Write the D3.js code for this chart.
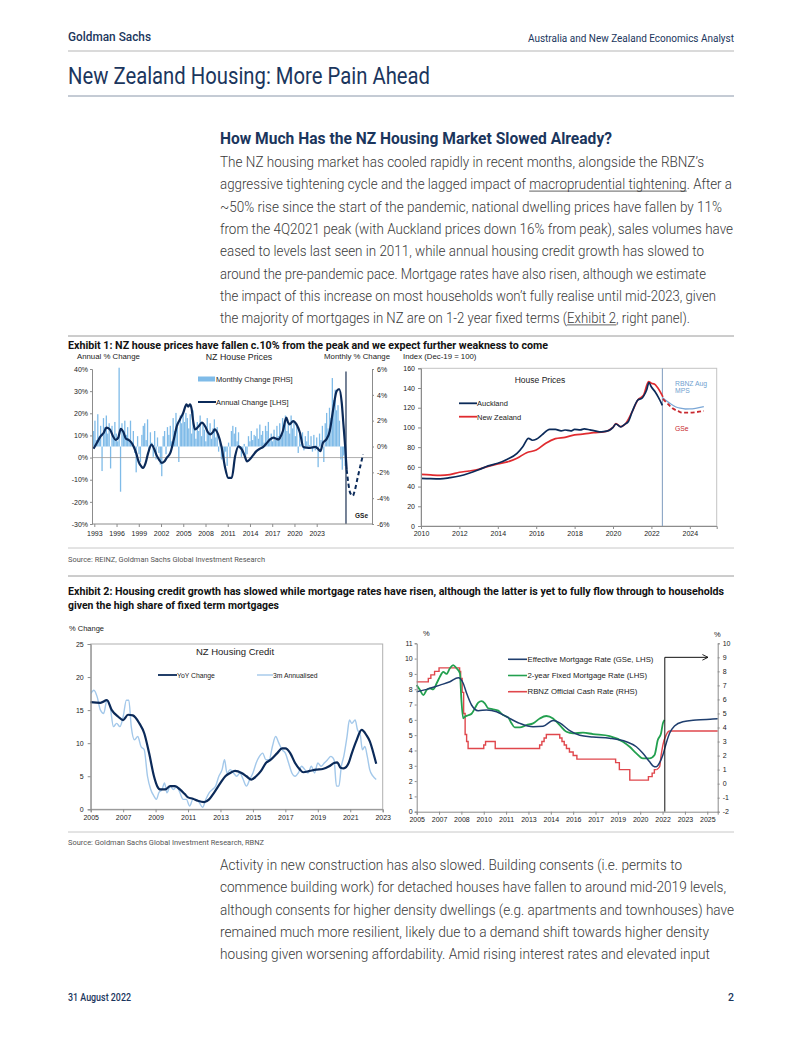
<!DOCTYPE html>
<html><head><meta charset="utf-8">
<script src="https://cdn.jsdelivr.net/npm/d3@7"></script>
<style>body{margin:0;background:#fff}</style>
</head><body>
<script>
// ================= DATA =================
const headerLeft = "Goldman Sachs";
const headerRight = "Australia and New Zealand Economics Analyst";
const pageTitle = "New Zealand Housing: More Pain Ahead";
const sectionHeading = "How Much Has the NZ Housing Market Slowed Already?";
const bodyLines1 = [
 "The NZ housing market has cooled rapidly in recent months, alongside the RBNZ’s",
 "aggressive tightening cycle and the lagged impact of {macroprudential tightening}. After a",
 "~50% rise since the start of the pandemic, national dwelling prices have fallen by 11%",
 "from the 4Q2021 peak (with Auckland prices down 16% from peak), sales volumes have",
 "eased to levels last seen in 2011, while annual housing credit growth has slowed to",
 "around the pre-pandemic pace. Mortgage rates have also risen, although we estimate",
 "the impact of this increase on most households won’t fully realise until mid-2023, given",
 "the majority of mortgages in NZ are on 1-2 year fixed terms ({Exhibit 2}, right panel)."
];
const bodyWidths1 = [484, 512, 502, 513, 484, 486, 496, 470];
const bodyLines2 = [
 "Activity in new construction has also slowed. Building consents (i.e. permits to",
 "commence building work) for detached houses have fallen to around mid-2019 levels,",
 "although consents for higher density dwellings (e.g. apartments and townhouses) have",
 "remained much more resilient, likely due to a demand shift towards higher density",
 "housing given worsening affordability. Amid rising interest rates and elevated input"
];
const bodyWidths2 = [462, 506, 514, 489, 490];
const exhibit1Title = "Exhibit 1: NZ house prices have fallen c.10% from the peak and we expect further weakness to come";
const exhibit2Title = ["Exhibit 2: Housing credit growth has slowed while mortgage rates have risen, although the latter is yet to fully flow through to households",
                       "given the high share of fixed term mortgages"];
const source1 = "Source: REINZ, Goldman Sachs Global Investment Research";
const source2 = "Source: Goldman Sachs Global Investment Research, RBNZ";
const footerDate = "31 August 2022";
const footerPage = "2";

// --- Chart 1: NZ House Prices ---
const c1YearLabels = [1993,1996,1999,2002,2005,2008,2011,2014,2017,2020,2023];
const c1LeftTicks = [-30,-20,-10,0,10,20,30,40];
const c1RightTicks = [-6,-4,-2,0,2,4,6];
const monthlyStart = 1993.0; // bi-monthly observations
const monthlyChange = [
 1.2,2.0,0.5,2.5,0.8,1.6,
 -1.9,2.2,1.5,2.4,1.0,1.8,
 -1.7,1.6,0.6,1.9,1.0,0.4,
 6.1,-3.5,1.8,1.2,2.0,0.9,
 1.5,0.6,2.0,0.3,1.2,-0.5,
 -2.0,0.8,-0.6,-1.2,0.9,1.6,
 1.8,0.5,2.1,-0.4,1.1,0.3,
 -0.8,1.2,-1.0,0.7,-0.5,-1.4,
 -2.3,0.8,1.2,-0.6,1.5,0.9,
 1.6,0.4,2.2,1.2,2.6,1.5,
 -1.2,2.4,1.8,2.5,1.9,2.6,
 2.2,1.4,2.5,1.0,2.8,1.6,
 0.6,1.9,1.2,2.4,0.8,1.7,
 1.3,0.4,2.2,1.0,1.8,0.6,
 1.4,2.1,0.7,1.5,-0.4,0.5,
 -1.0,-0.6,-1.2,-0.4,-1.5,0.3,
 -0.9,1.2,1.6,1.0,1.5,0.4,
 1.1,-0.2,-0.8,-0.5,0.2,-1.0,
 -0.6,0.8,0.4,1.2,0.5,0.9,
 0.8,1.4,0.6,1.7,0.9,1.2,
 0.3,1.6,1.2,1.9,0.6,1.0,
 0.4,1.3,0.5,1.6,0.8,1.8,
 0.7,2.2,1.5,2.4,1.2,1.9,
 1.0,2.4,1.4,1.9,0.8,1.5,
 -0.5,1.0,0.2,1.1,-0.3,0.8,
 0.4,1.2,0.1,0.8,-0.4,0.9,
 -0.3,0.7,-1.6,1.0,0.5,1.6,
 -1.2,1.8,2.6,1.4,3.0,2.2,
 5.3,3.6,4.4,2.8,3.2,2.0,
 -1.0,-1.8,-0.7,-1.5
];
const annualChange = [
 [1993.0,4.0],[1993.4,6.7],[1993.8,9.5],[1994.2,11.2],[1994.5,13.5],[1994.9,12.8],[1995.3,9.5],[1995.6,8.0],
 [1995.9,9.0],[1996.2,13.0],[1996.5,11.5],[1996.8,8.5],[1997.1,8.0],[1997.4,7.0],[1997.7,5.0],[1998.0,2.0],
 [1998.3,-2.0],[1998.6,-4.0],[1998.8,-4.7],[1999.1,-2.5],[1999.4,2.0],[1999.8,5.9],[2000.1,4.0],[2000.4,1.0],
 [2000.7,-1.0],[2001.0,-2.4],[2001.3,-1.8],[2001.6,0.0],[2002.0,2.1],[2002.4,8.0],[2002.75,14.0],[2003.1,17.0],
 [2003.5,20.0],[2003.9,24.0],[2004.1,23.0],[2004.3,24.0],[2004.5,22.0],[2004.7,16.0],[2004.9,12.7],[2005.3,14.0],
 [2005.7,15.8],[2006.1,14.0],[2006.4,11.5],[2006.7,10.5],[2007.0,11.5],[2007.2,12.7],[2007.6,10.5],[2008.0,5.0],
 [2008.4,-4.0],[2008.8,-9.2],[2009.2,-9.2],[2009.6,0.6],[2010.0,5.1],[2010.4,3.6],[2010.7,1.0],[2011.0,-1.7],
 [2011.3,-0.9],[2011.7,1.0],[2012.1,2.9],[2012.5,4.0],[2012.9,4.8],[2013.3,6.5],[2013.7,8.2],[2014.1,9.0],
 [2014.4,8.5],[2014.7,8.2],[2015.0,10.0],[2015.2,12.0],[2015.6,18.0],[2015.8,16.0],[2016.0,15.0],[2016.4,16.5],
 [2016.8,15.0],[2017.2,11.2],[2017.6,4.8],[2018.0,4.5],[2018.4,4.4],[2019.0,4.8],[2019.3,4.0],[2019.6,2.9],
 [2019.9,6.7],[2020.3,8.2],[2020.7,12.0],[2021.1,21.8],[2021.5,30.0],[2021.8,30.9],[2022.1,24.8],[2022.3,15.0],
 [2022.5,5.1],[2022.68,-5.5]
];
const annualForecast = [[2022.68,-5.5],[2023.1,-16.0],[2023.4,-17.3],[2023.6,-15.3],[2024.0,-8.5],[2024.6,1.4]];
const c1ForecastStart = 2022.6;

// --- Chart 2: House Prices index ---
const c2XTicks = [2010,2012,2014,2016,2018,2020,2022,2024];
const c2YTicks = [0,20,40,60,80,100,120,140,160];
const auckland = [
 [2010.0,48.4],[2010.5,48],[2011.0,47.8],[2011.5,49],[2012.0,50.7],[2012.5,53.5],[2013.0,57],[2013.5,61],
 [2014.0,63.6],[2014.5,67.7],[2015.0,73.7],[2015.3,80.5],[2015.6,89],[2015.8,87],[2016.0,88],[2016.3,92.4],
 [2016.7,98],[2017.0,98],[2017.3,96.5],[2017.5,97.4],[2017.8,96.5],[2018.0,98],[2018.3,97.5],[2018.5,98.5],
 [2018.8,97.5],[2019.0,96.8],[2019.3,95.5],[2019.5,95.7],[2019.8,97],[2020.0,100],[2020.15,103.5],[2020.4,100.5],
 [2020.6,103],[2020.8,106],[2021.0,116],[2021.3,128],[2021.5,129.5],[2021.6,132],[2021.75,138],[2021.87,145.5],
 [2022.0,141],[2022.2,136],[2022.35,131],[2022.57,122.5]
];
const newZealand = [
 [2010.0,52.4],[2010.5,51.8],[2011.0,51.4],[2011.5,52.2],[2012.0,54.5],[2012.5,55.8],[2013.0,57.5],[2013.5,60.5],
 [2014.0,63],[2014.5,65],[2015.0,68.7],[2015.5,74.4],[2016.0,77],[2016.5,84],[2017.0,88.6],[2017.5,90],
 [2018.0,92.4],[2018.5,93.4],[2019.0,94.7],[2019.5,95.4],[2020.0,100],[2020.15,104],[2020.4,100.8],[2020.7,105],
 [2021.0,116],[2021.3,128],[2021.6,133],[2021.85,146.5],[2022.0,144.8],[2022.15,144],[2022.3,141],[2022.6,131]
];
const rbnzProjection = [[2022.6,130],[2023.0,124],[2023.25,121],[2023.5,119.5],[2023.77,118.7],[2024.0,118.8],[2024.3,119.4],[2024.73,121]];
const gsProjection = [[2022.6,129],[2022.9,123],[2023.1,119.4],[2023.4,116.5],[2023.6,115],[2024.0,115],[2024.3,115.5],[2024.73,116.7]];
const c2ForecastStart = 2022.57;

// --- Chart 3: NZ Housing Credit ---
const c3XTicks = [2005,2007,2009,2011,2013,2015,2017,2019,2021,2023];
const c3YTicks = [0,5,10,15,20,25];
const yoyChange = [
 [2005.0,16.2],[2005.6,16.1],[2006.0,16.5],[2006.3,15.0],[2006.7,14.0],[2007.0,13.5],[2007.3,14.3],[2007.6,14.2],
 [2008.0,13.0],[2008.3,11.5],[2008.6,8.5],[2008.9,5.0],[2009.1,3.5],[2009.3,3.0],[2009.6,3.0],[2009.9,3.5],
 [2010.2,3.5],[2010.5,3.0],[2010.8,2.3],[2011.0,1.8],[2011.3,1.6],[2011.6,1.3],[2012.0,1.1],[2012.3,1.5],
 [2012.6,2.5],[2013.0,4.0],[2013.3,5.0],[2013.6,5.5],[2013.9,5.8],[2014.3,5.5],[2014.6,5.0],[2014.9,4.5],
 [2015.2,5.0],[2015.5,5.8],[2015.8,7.0],[2016.1,7.5],[2016.5,8.5],[2016.8,9.2],[2017.0,9.2],[2017.3,8.5],
 [2017.6,7.0],[2017.9,6.0],[2018.1,5.6],[2018.5,5.8],[2018.9,6.0],[2019.3,6.1],[2019.7,6.5],[2020.0,7.0],
 [2020.2,7.1],[2020.4,6.3],[2020.6,6.2],[2020.9,7.0],[2021.1,8.5],[2021.4,10.5],[2021.7,12.0],[2022.0,11.2],
 [2022.2,10.3],[2022.45,8.3],[2022.6,6.9]
];
const annualised3m = [
 [2005.0,17.5],[2005.2,18.0],[2005.4,17.0],[2005.6,15.0],[2005.8,14.5],[2006.0,16.5],[2006.2,15.5],[2006.4,12.5],
 [2006.6,13.0],[2006.8,12.5],[2007.0,14.0],[2007.2,16.5],[2007.35,16.5],[2007.5,12.5],[2007.7,10.5],[2007.9,11.0],
 [2008.1,9.5],[2008.3,9.0],[2008.5,5.0],[2008.7,3.0],[2008.9,2.0],[2009.05,1.5],[2009.2,2.5],[2009.4,3.0],
 [2009.55,4.0],[2009.7,2.5],[2009.9,3.5],[2010.1,3.0],[2010.3,3.5],[2010.5,2.5],[2010.7,1.5],[2010.9,1.5],
 [2011.1,0.5],[2011.3,1.5],[2011.5,1.5],[2011.7,1.0],[2011.9,0.3],[2012.1,1.5],[2012.3,2.5],[2012.5,3.0],
 [2012.7,3.5],[2012.9,5.0],[2013.1,6.0],[2013.25,7.5],[2013.4,5.5],[2013.6,6.0],[2013.8,5.5],[2014.0,5.0],
 [2014.2,5.5],[2014.4,4.5],[2014.6,3.5],[2014.8,4.5],[2015.0,5.5],[2015.2,7.0],[2015.4,8.0],[2015.6,8.5],
 [2015.8,7.5],[2016.0,7.5],[2016.2,9.5],[2016.4,11.0],[2016.6,10.0],[2016.8,9.0],[2017.0,8.5],[2017.2,7.0],
 [2017.4,5.5],[2017.6,5.0],[2017.8,5.5],[2018.0,6.5],[2018.2,6.0],[2018.4,5.5],[2018.6,6.5],[2018.8,5.5],
 [2019.0,7.0],[2019.2,6.5],[2019.4,7.0],[2019.6,7.5],[2019.8,8.0],[2020.0,7.5],[2020.15,3.5],[2020.3,3.5],
 [2020.45,6.5],[2020.6,8.0],[2020.8,11.0],[2020.95,13.5],[2021.1,13.0],[2021.3,13.5],[2021.45,12.0],[2021.6,11.5],
 [2021.75,9.0],[2021.9,9.5],[2022.05,8.0],[2022.2,6.0],[2022.4,5.0],[2022.6,4.5]
];

// --- Chart 4: Mortgage rates & OCR ---
const c4XTicks = [2005,2006.5,2008,2009.5,2011,2012.5,2014,2015.5,2017,2018.5,2020,2021.5,2023,2024.5];
const c4LeftTicks = [0,1,2,3,4,5,6,7,8,9,10,11];
const c4RightTicks = [-2,-1,0,1,2,3,4,5,6,7,8,9,10];
const effectiveRate = [
 [2005.0,7.84],[2005.67,7.99],[2006.56,8.27],[2007.23,8.49],[2007.79,8.75],[2008.12,8.39],[2008.35,7.73],[2008.68,6.97],
 [2009.13,6.6],[2009.69,6.64],[2010.36,6.53],[2011.03,6.2],[2011.92,5.77],[2012.81,5.55],[2013.48,5.58],[2014.15,5.95],
 [2014.6,5.8],[2015.27,5.3],[2015.94,5.0],[2016.83,4.88],[2017.95,4.8],[2019.07,4.57],[2019.74,4.24],[2020.18,3.81],
 [2020.63,3.26],[2020.85,3.0],[2021.07,2.93],[2021.3,3.2],[2021.52,3.7],[2021.74,4.46],[2021.97,5.12],[2022.3,5.6],
 [2022.86,5.88],[2023.75,5.99],[2024.87,6.05],[2025.2,6.07]
];
const fixed2yr = [
 [2005.0,8.27],[2005.22,7.95],[2005.45,7.62],[2005.67,7.95],[2005.89,8.06],[2006.1,7.99],[2006.34,8.39],[2006.56,8.82],
 [2006.78,9.14],[2007.0,9.0],[2007.23,9.37],[2007.45,9.58],[2007.67,9.37],[2007.9,9.04],[2008.0,7.3],[2008.12,6.1],
 [2008.24,6.2],[2008.46,6.3],[2008.68,6.4],[2008.9,6.75],[2009.13,7.12],[2009.35,7.22],[2009.57,7.08],[2009.8,6.75],
 [2010.13,6.69],[2010.47,6.6],[2010.8,6.31],[2011.14,6.16],[2011.35,5.8],[2011.58,5.51],[2011.92,5.51],[2012.37,5.66],
 [2012.81,5.77],[2013.26,6.09],[2013.7,6.25],[2014.15,6.09],[2014.6,5.65],[2015.05,5.22],[2015.49,5.12],[2016.16,5.16],
 [2016.83,5.07],[2017.95,4.94],[2018.84,4.57],[2019.29,4.24],[2019.74,3.81],[2020.18,3.48],[2020.63,3.48],[2020.96,3.7],
 [2021.18,4.68],[2021.4,5.12],[2021.52,5.77],[2021.63,5.99]
];
const ocrHistory = [
 [2005.0,7.25],[2005.78,7.5],[2005.95,7.75],[2006.2,8.0],[2006.5,8.25],[2007.88,8.0],[2007.95,7.5],[2008.05,6.5],
 [2008.15,5.0],[2008.25,3.5],[2008.35,3.0],[2008.45,2.5],[2009.5,2.75],[2009.62,3.0],[2010.27,2.5],[2013.25,2.75],
 [2013.4,3.0],[2013.55,3.25],[2013.7,3.5],[2014.6,3.25],[2014.75,3.0],[2014.9,2.75],[2015.05,2.5],[2015.25,2.25],
 [2015.5,2.0],[2015.75,1.75],[2018.35,1.5],[2018.6,1.0],[2019.3,0.25],[2020.55,0.5],[2020.8,0.75],[2020.95,1.0],[2021.1,1.0]
];
const ocrForecast = [[2021.1,1.0],[2021.3,1.2],[2021.4,2.0],[2021.52,2.75],[2021.74,3.46],[2021.97,3.75],[2025.2,3.75]];
const c4Marker = {year:2021.65, arrowEnd:2024.55, level:9};
const c4Legend = ["Effective Mortgage Rate (GSe, LHS)","2-year Fixed Mortgage Rate (LHS)","RBNZ Official Cash Rate (RHS)"];

// ================= DRAW =================
const NAVY = "#1b365d";
const DOC = "Roboto, 'Liberation Sans', sans-serif";
const CH = "'Liberation Sans', Arial, sans-serif";
const svg = d3.select("body").append("svg").attr("width",802).attr("height",1037);

function T(x,y,s,o={}){
  const t = svg.append("text").attr("x",x).attr("y",y).text(s)
    .attr("font-family",o.ff||CH).attr("font-size",o.fs||7).attr("fill",o.fill||"#222");
  if(o.fw) t.attr("font-weight",o.fw);
  if(o.anchor) t.attr("text-anchor",o.anchor);
  if(o.len) t.attr("textLength",o.len).attr("lengthAdjust","spacingAndGlyphs");
  return t;
}
function rule(x1,x2,y,c,w){ svg.append("line").attr("x1",x1).attr("x2",x2).attr("y1",y).attr("y2",y).attr("stroke",c).attr("stroke-width",w||1); }
function richLine(x,y,s,len){
  const m = s.match(/\{([^}]*)\}/);
  const plain = s.replace(/[{}]/g,"");
  const t = svg.append("text").attr("x",x).attr("y",y).attr("font-family",DOC).attr("font-size",14)
    .attr("font-weight",300).attr("fill","#3a3a3a").attr("textLength",len).attr("lengthAdjust","spacingAndGlyphs").text(plain);
  if(m){
    const i0 = s.indexOf("{"), i1 = i0 + m[1].length - 1;
    const node = t.node();
    let xa, xb;
    try { xa = node.getStartPositionOfChar(i0).x; xb = node.getEndPositionOfChar(i1).x; } catch(e){ xa = null; }
    if(xa!=null) svg.append("line").attr("x1",xa).attr("x2",xb).attr("y1",y+1.8).attr("y2",y+1.8).attr("stroke","#3a3a3a").attr("stroke-width",0.8);
  }
}
function sty(g){
  g.attr("font-family",CH).attr("font-size",7);
  g.selectAll("path.domain").attr("stroke","#8c8c8c");
  g.selectAll(".tick line").attr("stroke","#8c8c8c");
  g.selectAll(".tick text").attr("fill","#222");
}

// Header
T(68,41,headerLeft,{ff:DOC,fs:13,fw:500,fill:NAVY,len:83});
T(734,42,headerRight,{ff:DOC,fs:10,fill:NAVY,anchor:"end",len:206});
rule(68,734,51,"#b5b5b5");
T(68,84,pageTitle,{ff:DOC,fs:23,fill:NAVY,len:362});
rule(68,734,96,"#8a97aa");
T(220,144,sectionHeading,{ff:DOC,fs:16,fw:700,fill:NAVY,len:392});
bodyLines1.forEach((s,i)=>richLine(220,167+i*22.3,s,bodyWidths1[i]));
rule(68,734,336,"#9a9a9a");
T(68,348.5,exhibit1Title,{ff:DOC,fs:10.5,fw:700,fill:"#111",len:480});

// ---------- Chart 1 ----------
const x1 = d3.scaleLinear().domain([1992.82,2025.65]).range([92,372]);
const x1lab = d3.scaleLinear().domain([1993,2023]).range([94.3,316.7]);
const yL1 = d3.scaleLinear().domain([-30,40]).range([524,369]);
const yR1 = d3.scaleLinear().domain([-6,6]).range([524,369]);
svg.append("g").selectAll("rect").data(monthlyChange).join("rect")
  .attr("x",(d,i)=>x1(monthlyStart+i/6)-0.65).attr("width",1.3)
  .attr("y",d=>Math.min(yR1(d),yR1(0))).attr("height",d=>Math.abs(yR1(d)-yR1(0)))
  .attr("fill","#7fbbe8");
rule(92,372,yL1(0),"#9a9a9a",0.8);
svg.append("line").attr("x1",x1(c1ForecastStart)).attr("x2",x1(c1ForecastStart)).attr("y1",yR1(5.8)).attr("y2",yR1(-6))
  .attr("stroke","#3c4e6b").attr("stroke-width",1.4);
const l1 = d3.line().x(d=>x1(d[0])).y(d=>yL1(d[1])).curve(d3.curveMonotoneX);
svg.append("path").attr("d",l1(annualChange)).attr("fill","none").attr("stroke","#0b2a59").attr("stroke-width",2.2);
svg.append("path").attr("d",l1(annualForecast)).attr("fill","none").attr("stroke","#0b2a59").attr("stroke-width",2).attr("stroke-dasharray","4,3");
svg.append("g").attr("transform","translate(92,0)").call(d3.axisLeft(yL1).tickValues(c1LeftTicks).tickFormat(d=>d+"%").tickSize(2).tickPadding(2)).call(sty);
svg.append("g").attr("transform","translate(372,0)").call(d3.axisRight(yR1).tickValues(c1RightTicks).tickFormat(d=>d+"%").tickSize(2).tickPadding(3)).call(sty);
svg.append("g").attr("transform","translate(0,524)").call(d3.axisBottom(x1lab).tickValues(c1YearLabels).tickFormat(d3.format("d")).tickSize(3).tickPadding(4)).call(sty)
  .call(g=>g.select("path.domain").remove());
rule(92,372,524,"#8c8c8c");
T(77,359,"Annual % Change",{fs:7.8});
T(239,359.5,"NZ House Prices",{fs:8.8,anchor:"middle"});
T(390,359,"Monthly % Change",{fs:7.8,anchor:"end"});
svg.append("rect").attr("x",198).attr("y",376.5).attr("width",17).attr("height",5).attr("fill","#7fbbe8");
T(216,381.5,"Monthly Change [RHS]",{fs:7.5});
rule(198,216,402,"#0b2a59",2);
T(216,404.5,"Annual Change [LHS]",{fs:7.5});
T(355,518,"GSe",{fs:6.5,fw:700});

// ---------- Chart 2 ----------
const x2 = d3.scaleLinear().domain([2010,2025.4]).range([421,716.7]);
const y2 = d3.scaleLinear().domain([0,160]).range([526,368.3]);
svg.append("rect").attr("x",421).attr("y",368.3).attr("width",295.7).attr("height",157.7).attr("fill","none").attr("stroke","#c4c4c4");
svg.append("line").attr("x1",x2(c2ForecastStart)).attr("x2",x2(c2ForecastStart)).attr("y1",368.3).attr("y2",526).attr("stroke","#7f9cbf").attr("stroke-width",1);
const l2 = d3.line().x(d=>x2(d[0])).y(d=>y2(d[1])).curve(d3.curveMonotoneX);
svg.append("path").attr("d",l2(rbnzProjection)).attr("fill","none").attr("stroke","#7ba7d6").attr("stroke-width",1.3);
svg.append("path").attr("d",l2(gsProjection)).attr("fill","none").attr("stroke","#c8282e").attr("stroke-width",1.8).attr("stroke-dasharray","4,2.5");
svg.append("path").attr("d",l2(newZealand)).attr("fill","none").attr("stroke","#e02b2f").attr("stroke-width",1.7);
svg.append("path").attr("d",l2(auckland)).attr("fill","none").attr("stroke","#0b2a59").attr("stroke-width",1.7);
svg.append("g").attr("transform","translate(421,0)").call(d3.axisLeft(y2).tickValues(c2YTicks).tickSize(3).tickPadding(3)).call(sty);
svg.append("g").attr("transform","translate(0,526)").call(d3.axisBottom(x2).tickValues(c2XTicks).tickFormat(d3.format("d")).tickSize(3).tickPadding(2)).call(sty);
T(403,358.5,"Index (Dec-19 = 100)",{fs:7.8});
T(540,383,"House Prices",{fs:8.5,anchor:"middle"});
rule(459,477,403.3,"#0b2a59",1.8); T(477,406,"Auckland",{fs:7.5});
rule(459,477,416.7,"#e02b2f",1.8); T(477,419.5,"New Zealand",{fs:7.5});
T(675,386,"RBNZ Aug",{fs:6.8,fill:"#6f9fd0"});
T(675,393,"MPS",{fs:6.8,fill:"#6f9fd0"});
T(675,430.5,"GSe",{fs:6.8,fill:"#c8282e"});

rule(68,734,548,"#c8c8c8");
T(68,562,source1,{ff:DOC,fs:7,fill:"#555",len:197});
rule(68,734,576,"#9a9a9a");
T(68,594.5,exhibit2Title[0],{ff:DOC,fs:10.5,fw:700,fill:"#111",len:656});
T(68,608.5,exhibit2Title[1],{ff:DOC,fs:10.5,fw:700,fill:"#111",len:211});

// ---------- Chart 3 ----------
const x3 = d3.scaleLinear().domain([2005,2023]).range([90.7,382.7]);
const y3 = d3.scaleLinear().domain([0,25]).range([809.3,644]);
svg.append("rect").attr("x",90.7).attr("y",644).attr("width",292).attr("height",165.3).attr("fill","none").attr("stroke","#b0b0b0");
const l3 = d3.line().x(d=>x3(d[0])).y(d=>y3(d[1])).curve(d3.curveMonotoneX);
svg.append("path").attr("d",l3(annualised3m)).attr("fill","none").attr("stroke","#a3c8ea").attr("stroke-width",1.4);
svg.append("path").attr("d",l3(yoyChange)).attr("fill","none").attr("stroke","#0b2a59").attr("stroke-width",2.2);
svg.append("g").attr("transform","translate(90.7,0)").call(d3.axisLeft(y3).tickValues(c3YTicks).tickSize(3).tickPadding(4)).call(sty);
svg.append("g").attr("transform","translate(0,809.3)").call(d3.axisBottom(x3).tickValues(c3XTicks).tickFormat(d3.format("d")).tickSize(3).tickPadding(3)).call(sty);
T(69,631,"% Change",{fs:7.5});
T(235,655,"NZ Housing Credit",{fs:9.5,anchor:"middle"});
rule(158,177,675,"#0b2a59",1.8); T(177,677.5,"YoY Change",{fs:6.8});
rule(257,273,675,"#a3c8ea",1.4); T(273,677.5,"3m Annualised",{fs:6.8});

// ---------- Chart 4 ----------
const x4 = d3.scaleLinear().domain([2005,2025.2]).range([416.7,717.7]);
const yL4 = d3.scaleLinear().domain([0,11]).range([811.7,643.3]);
const yR4 = d3.scaleLinear().domain([-2,10]).range([811.7,643.3]);
const l4L = d3.line().x(d=>x4(d[0])).y(d=>yL4(d[1])).curve(d3.curveMonotoneX);
svg.append("path").attr("d",d3.line().x(d=>x4(d[0])).y(d=>yR4(d[1])).curve(d3.curveStepAfter)(ocrHistory)).attr("fill","none").attr("stroke","#e0474c").attr("stroke-width",1.4);
svg.append("path").attr("d",d3.line().x(d=>x4(d[0])).y(d=>yR4(d[1])).curve(d3.curveMonotoneX)(ocrForecast)).attr("fill","none").attr("stroke","#e0474c").attr("stroke-width",1.4);
svg.append("path").attr("d",l4L(fixed2yr)).attr("fill","none").attr("stroke","#23a04f").attr("stroke-width",1.8);
svg.append("path").attr("d",l4L(effectiveRate)).attr("fill","none").attr("stroke","#1f3e6e").attr("stroke-width",1.5);
svg.append("defs").append("marker").attr("id","arr").attr("viewBox","0 0 10 10").attr("refX",9).attr("refY",5)
  .attr("markerWidth",7).attr("markerHeight",7).attr("orient","auto")
  .append("path").attr("d","M1,1 L9,5 L1,9").attr("fill","none").attr("stroke","#111").attr("stroke-width",1.3);
svg.append("path").attr("d",`M${x4(c4Marker.year)},${yR4(-2)} V${yR4(c4Marker.level)} H${x4(c4Marker.arrowEnd)}`)
  .attr("fill","none").attr("stroke","#111").attr("stroke-width",1).attr("marker-end","url(#arr)");
svg.append("g").attr("transform","translate(416.7,0)").call(d3.axisLeft(yL4).tickValues(c4LeftTicks).tickFormat(d=>String(d)).tickSize(2).tickPadding(2)).call(sty);
svg.append("g").attr("transform","translate(717.7,0)").call(d3.axisRight(yR4).tickValues(c4RightTicks).tickFormat(d=>String(d)).tickSize(2).tickPadding(3)).call(sty);
svg.append("g").attr("transform","translate(0,811.7)").call(d3.axisBottom(x4).tickValues(c4XTicks).tickFormat(d=>String(Math.round(d))).tickSize(3).tickPadding(2)).call(sty);
T(423,636,"%",{fs:7.5});
T(714,637,"%",{fs:7.5});
const legCols = ["#1f3e6e","#23a04f","#e0474c"];
c4Legend.forEach((s,i)=>{ const y=659.3+i*16.2; rule(508,527,y,legCols[i],1.6); T(527.5,y+2.6,s,{fs:7.8}); });

rule(68,734,832,"#c8c8c8");
T(68,845,source2,{ff:DOC,fs:7,fill:"#555",len:196});
bodyLines2.forEach((s,i)=>richLine(220,870+i*22.3,s,bodyWidths2[i]));

// Footer
T(68,1001,footerDate,{ff:DOC,fs:10.5,fw:500,fill:NAVY,len:63});
T(734,1001,footerPage,{ff:DOC,fs:10.5,fw:500,fill:NAVY,anchor:"end"});
</script>
</body></html>
